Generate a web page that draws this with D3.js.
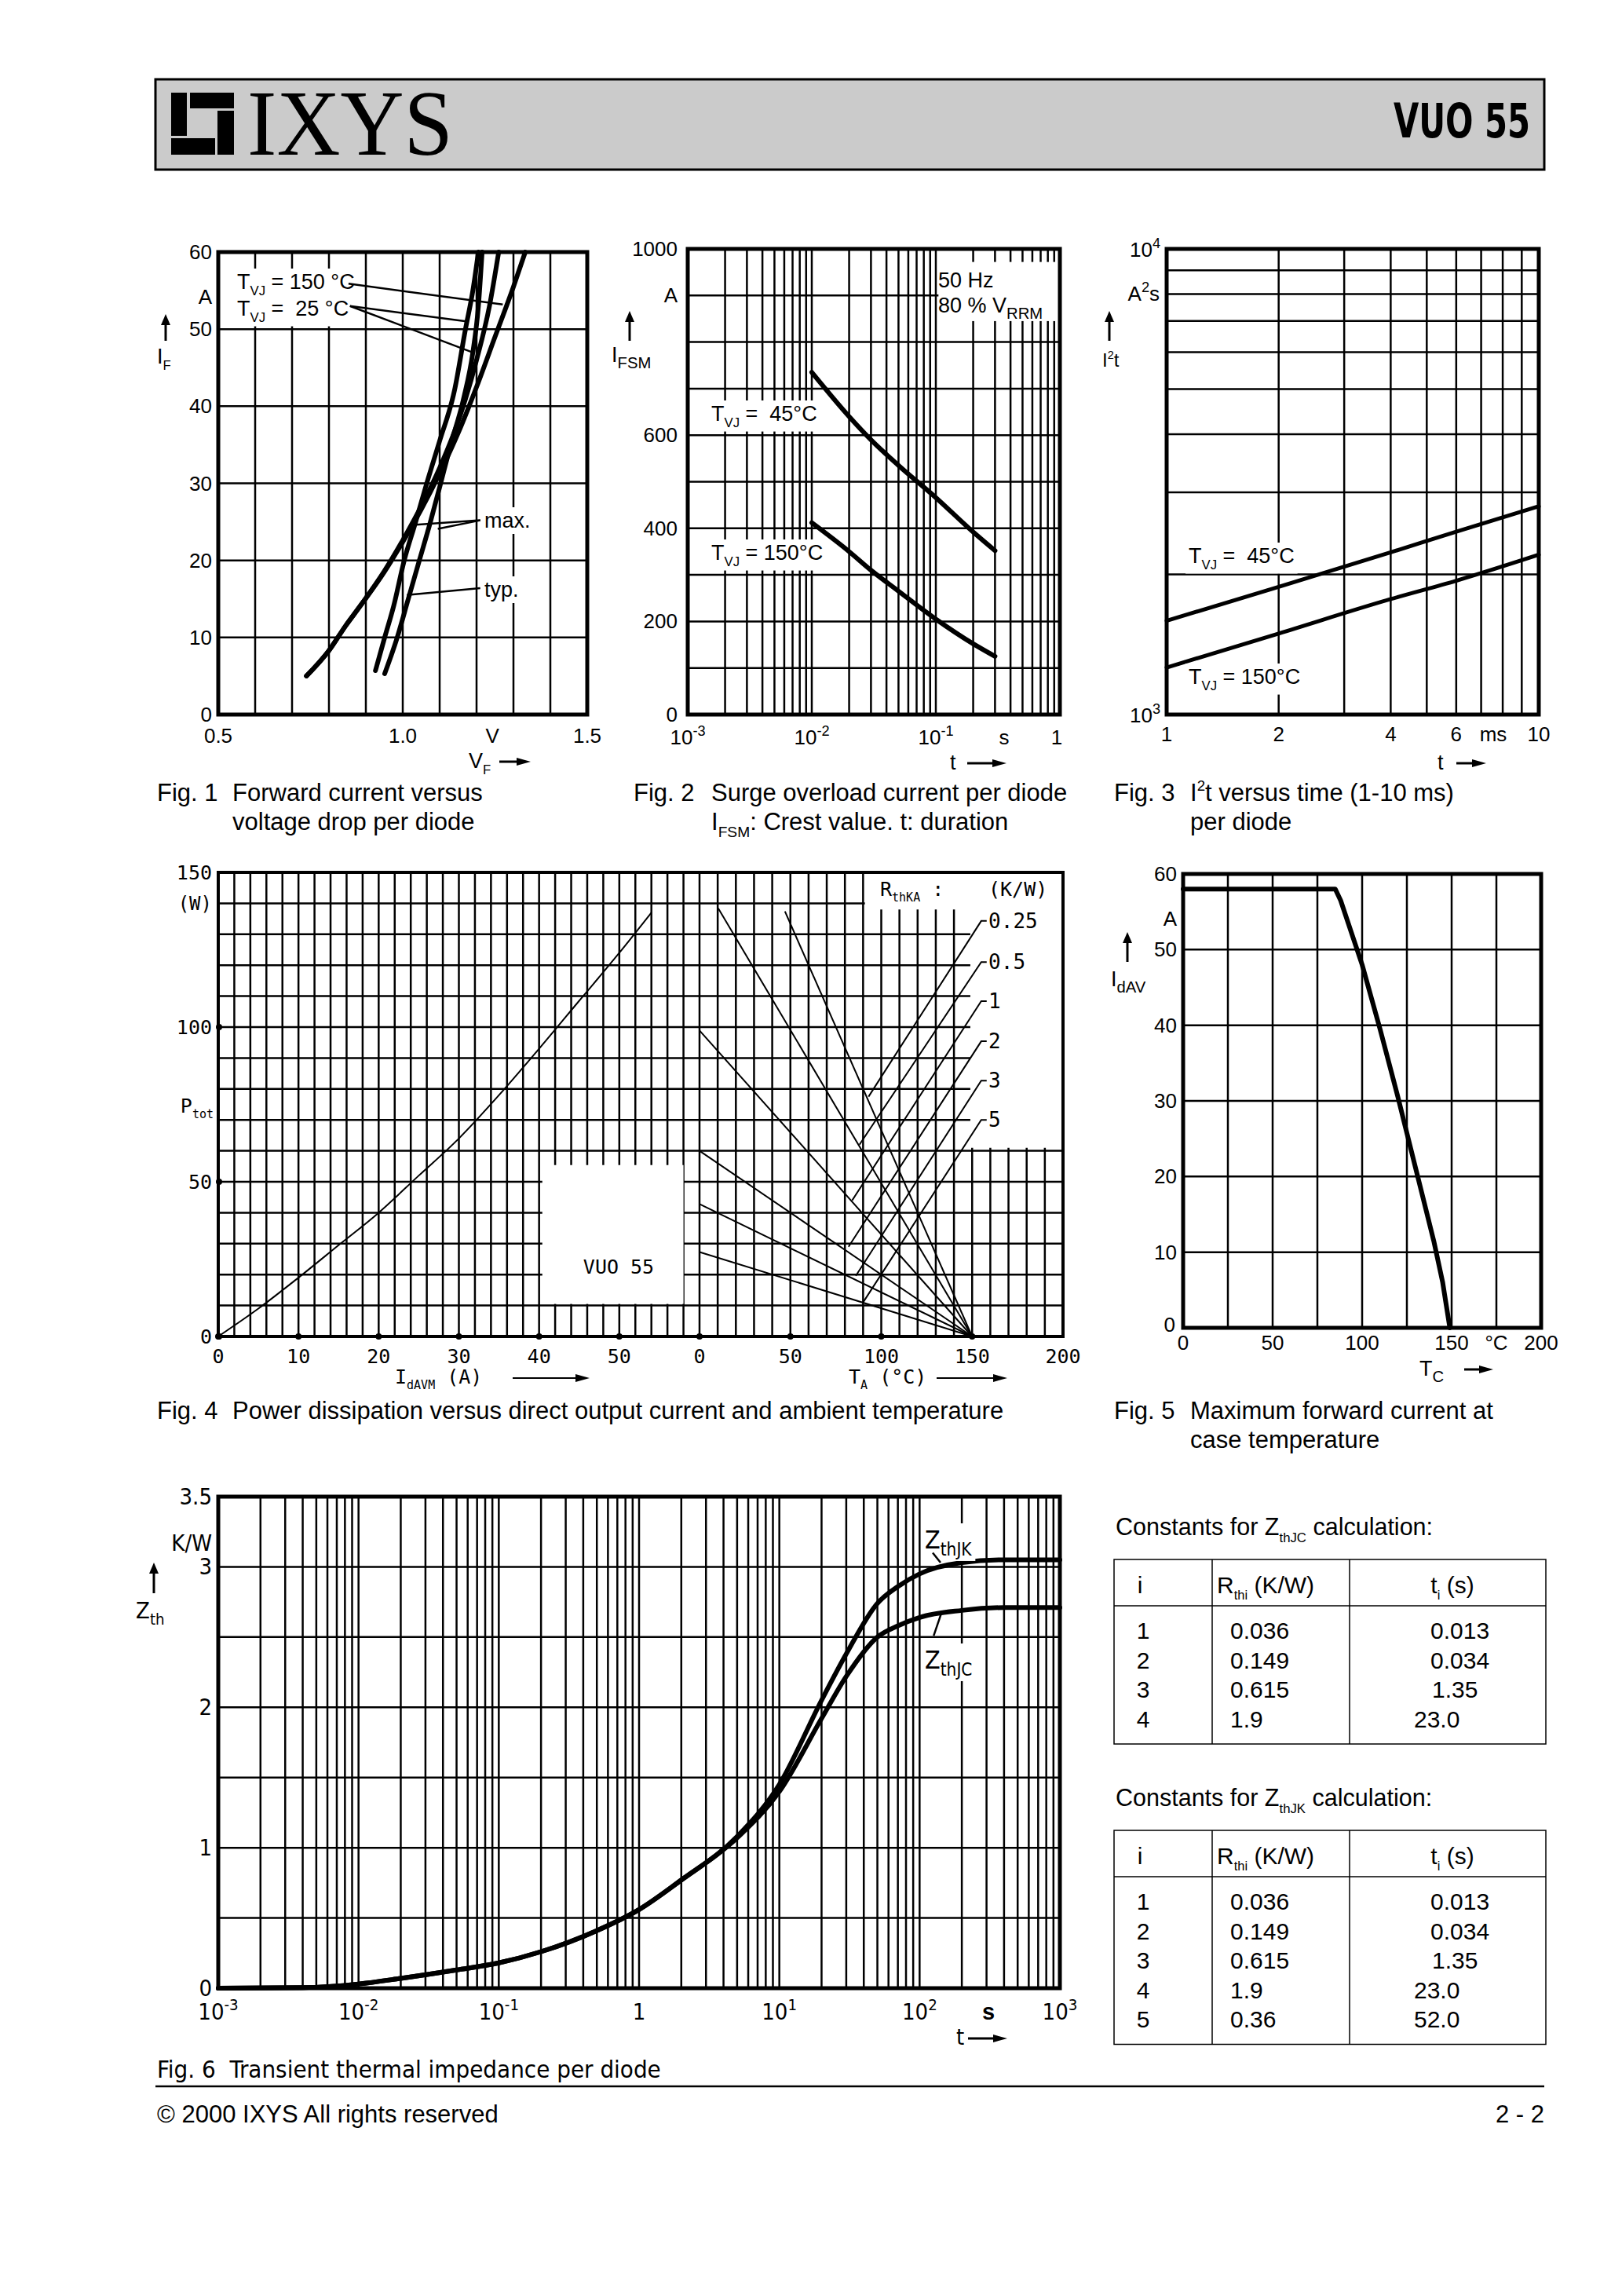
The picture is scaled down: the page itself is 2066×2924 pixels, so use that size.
<!DOCTYPE html>
<html>
<head>
<meta charset="utf-8">
<script src="https://cdn.jsdelivr.net/npm/d3@7"></script>
<style>
body { margin: 0; background: #fff; }
svg { display: block; }
text { font-family: "Liberation Sans", Arial, Helvetica, sans-serif; fill: #000; white-space: pre; }
.cond { font-family: "Liberation Sans Narrow", "DejaVu Sans Condensed", sans-serif; }
.plot { font-family: "DejaVu Sans Mono", monospace; }
.serif { font-family: "Liberation Serif", "Times New Roman", serif; }
</style>
</head>
<body>
<svg id="page"></svg>
<script>
// ---------- DATA ----------

// Fig. 1  forward characteristic, [V_F (V), I_F (A)]
var fwd25typ  = [[0.926,5.7],[0.951,10],[0.975,14],[1.004,20],[1.035,25],[1.065,30],[1.10,35.5],[1.14,42],[1.17,50],[1.19,55],[1.205,60]];
var fwd25max  = [[0.951,5.3],[0.985,10],[1.015,15],[1.045,20],[1.075,25],[1.10,29.5],[1.13,35],[1.165,41],[1.19,47],[1.205,53],[1.215,60]];
var fwd150typ = [[0.739,5],[0.80,8.3],[0.845,11.5],[0.885,14.1],[0.95,18.6],[1.0,22.6],[1.05,27],[1.10,32],[1.15,38],[1.20,46],[1.235,53],[1.26,60]];
var fwd150max = [[0.739,5],[0.80,8.3],[0.845,11.5],[0.885,14.1],[0.95,18.5],[1.0,22.4],[1.05,26.6],[1.10,31.3],[1.15,36.5],[1.20,42.5],[1.25,49],[1.30,55.5],[1.332,60]];
var fig1YTicks = [0, 10, 20, 30, 40, 50, 60];
var fig1XTicks = [0.5, 1.0, 1.5];
var fig1XLabels = ["0.5", "1.0", "1.5"];

// Fig. 2  surge current, t (s) vs I_FSM (A)
var surgeT = [0.01, 0.02, 0.03, 0.05, 0.1, 0.2, 0.3];
var surge45 = [735, 640, 590, 535, 466, 392, 352];
var surge150 = [412, 350, 310, 265, 205, 152, 125];
var fig2YTicks = [0, 200, 400, 600, 1000];
var fig2XTicks = [0.001, 0.01, 0.1, 1];
var fig2XExp = ["-3", "-2", "-1", ""];

// Fig. 3  I2t, t (ms) vs A2s
var i2tT = [1, 2, 4, 6, 10];
var i2t45 = [1590, 1880, 2230, 2470, 2800];
var i2t150 = [1262, 1493, 1770, 1938, 2204];
var fig3XTicks = [1, 2, 4, 6, 10];

// Fig. 4  power dissipation
var pIdavm = [0, 5, 10, 15, 20, 25, 30, 35, 40, 45, 50, 54];
var pTot = [0, 9, 19, 29.5, 40, 52, 64, 78, 93, 108.5, 124, 137];
var rthkaNames = ["0.25", "0.5", "1", "2", "3", "5"];
var rthkaStart = [[47,137.4],[10.3,138.4],[0,98.9],[0,60],[0,42.8],[0,27.3]];   // [T_A, P] where each line starts; all end at 150 °C / 0 W
var rthkaLabelP = [134.3, 121, 108.4, 95.4, 82.7, 70];
var rthkaLeadEnd = [[93,77.5],[88,62],[84,44],[82,29],[86,19.6],[90,11]];
var fig4PTicks = [0, 50, 100, 150];
var fig4ITicks = [0, 10, 20, 30, 40, 50];
var fig4TTicks = [0, 50, 100, 150, 200];

// Fig. 5  max forward current vs case temperature
var caseT = [0, 85, 88, 100, 110, 120, 130, 140, 145, 149];
var caseI = [58, 58, 56.5, 48, 39.5, 30.5, 21, 11.5, 6, 0];
var fig5YTicks = [0, 10, 20, 30, 40, 50, 60];
var fig5XTicks = [0, 50, 100, 150, 200];

// Fig. 6  transient thermal impedance
var zthT = [0.001, 0.004, 0.01, 0.02, 0.05, 0.1, 0.2, 0.5, 1, 2, 5, 10, 20, 30, 50, 70, 100, 200, 400, 1000];
var zthJC = [0, 0.004, 0.03, 0.07, 0.13, 0.18, 0.26, 0.41, 0.56, 0.77, 1.07, 1.40, 1.92, 2.22, 2.50, 2.58, 2.64, 2.69, 2.71, 2.71];
var zthJK = [0, 0.004, 0.03, 0.07, 0.13, 0.18, 0.26, 0.41, 0.56, 0.77, 1.08, 1.45, 2.05, 2.38, 2.74, 2.86, 2.95, 3.03, 3.05, 3.05];
var fig6YTicks = [0, 1, 2, 3, 3.5];
var fig6XTicks = [0.001, 0.01, 0.1, 1, 10, 100, 1000];
var fig6XExp = ["-3", "-2", "-1", "", "1", "2", "3"];

// Tables
var tabIdx = ["1", "2", "3", "4", "5"];
var tabRthJC = ["0.036", "0.149", "0.615", "1.9"];
var tabTiJC = ["0.013", "0.034", "1.35", "23.0"];
var tabRthJK = ["0.036", "0.149", "0.615", "1.9", "0.36"];
var tabTiJK = ["0.013", "0.034", "1.35", "23.0", "52.0"];

// ---------- PAGE ----------
var W = 2066, H = 2924;
var svg = d3.select("#page").attr("width", W).attr("height", H);
svg.append("rect").attr("width", W).attr("height", H).attr("fill", "#fff");

// text with sub/superscript parts
function rich(g, x, y, parts, size, opt) {
  opt = opt || {};
  var t = g.append("text").attr("x", x).attr("y", y)
    .attr("font-size", size).attr("text-anchor", opt.anchor || "start");
  if (opt.cls) t.attr("class", opt.cls);
  if (opt.weight) t.attr("font-weight", opt.weight);
  var shift = 0;
  parts.forEach(function (p) {
    if (typeof p === "string") p = { t: p };
    var target = p.sub ? size * 0.28 : (p.sup ? -size * 0.42 : 0);
    var ts = t.append("tspan").text(p.t).attr("dy", target - shift);
    if (p.sub || p.sup) ts.attr("font-size", size * (p.k || 0.62));
    shift = target;
  });
  if (opt.bg) {
    var b = t.node().getBBox();
    g.insert("rect", function () { return t.node(); })
      .attr("x", b.x - 4).attr("y", b.y - 2).attr("width", b.width + 8).attr("height", b.height + 4)
      .attr("fill", "#fff");
  }
  return t;
}

function seg(g, x1, y1, x2, y2, w) {
  return g.append("line").attr("x1", x1).attr("y1", y1).attr("x2", x2).attr("y2", y2)
    .attr("stroke", "#000").attr("stroke-width", w || 2);
}

function upArrow(g, x, y0, y1) {
  seg(g, x, y1, x, y0 + 12, 3);
  g.append("path").attr("d", "M" + (x - 6) + "," + (y0 + 14) + "L" + x + "," + y0 + "L" + (x + 6) + "," + (y0 + 14) + "Z");
}
function rightArrow(g, x0, x1, y, w) {
  seg(g, x0, y, x1 - 14, y, w || 3);
  g.append("path").attr("d", "M" + (x1 - 18) + "," + (y - 5) + "L" + x1 + "," + y + "L" + (x1 - 18) + "," + (y + 5) + "Z");
}

function grid(g, x, y, xv, yv, w) {
  var xr = x.range(), yr = y.range();
  g.append("g").selectAll("line").data(xv).join("line")
    .attr("x1", function (d) { return x(d); }).attr("x2", function (d) { return x(d); })
    .attr("y1", yr[0]).attr("y2", yr[1]).attr("stroke", "#000").attr("stroke-width", w);
  g.append("g").selectAll("line").data(yv).join("line")
    .attr("y1", function (d) { return y(d); }).attr("y2", function (d) { return y(d); })
    .attr("x1", xr[0]).attr("x2", xr[1]).attr("stroke", "#000").attr("stroke-width", w);
}
function frame(g, x, y, w) {
  var xr = x.range(), yr = y.range();
  g.append("rect").attr("x", xr[0]).attr("y", yr[1]).attr("width", xr[1] - xr[0]).attr("height", yr[0] - yr[1])
    .attr("fill", "none").attr("stroke", "#000").attr("stroke-width", w);
}
function logGrid(lo, hi) {
  var v = [];
  for (var e = lo; e < hi; e++) for (var m = 1; m <= 9; m++) v.push(m * Math.pow(10, e));
  return v.filter(function (d, i) { return i > 0; });
}
function curve(g, pts, x, y, w, c) {
  g.append("path").datum(pts)
    .attr("d", d3.line().x(function (d) { return x(d[0]); }).y(function (d) { return y(d[1]); }).curve(c || d3.curveMonotoneX))
    .attr("fill", "none").attr("stroke", "#000").attr("stroke-width", w).attr("stroke-linecap", "round").attr("stroke-linejoin", "round");
}

// ---------- HEADER ----------
var head = svg.append("g");
head.append("rect").attr("x", 198).attr("y", 101).attr("width", 1769).attr("height", 115)
  .attr("fill", "#cbcbcb").attr("stroke", "#000").attr("stroke-width", 3);
[[218, 118, 20, 55], [242, 118, 56, 20], [277, 141, 21, 56], [218, 176, 56, 21]].forEach(function (r) {
  head.append("rect").attr("x", r[0]).attr("y", r[1]).attr("width", r[2]).attr("height", r[3]).attr("fill", "#000");
});
head.append("text").attr("class", "serif").attr("x", 315).attr("y", 197).attr("font-size", 118)
  .attr("textLength", 262).attr("lengthAdjust", "spacingAndGlyphs").text("IXYS");
head.append("text").attr("class", "cond").attr("x", 1775).attr("y", 175).attr("font-size", 60)
  .attr("font-weight", "bold").attr("textLength", 174).attr("lengthAdjust", "spacingAndGlyphs").text("VUO 55");

// ---------- FIG 1 ----------
var g1 = svg.append("g");
var x1 = d3.scaleLinear().domain([0.5, 1.5]).range([278, 748]);
var y1 = d3.scaleLinear().domain([0, 60]).range([910, 321]);
grid(g1, x1, y1, d3.range(0.6, 1.45, 0.1), d3.range(10, 55, 10), 2.5);
frame(g1, x1, y1, 5);
[fwd150max, fwd150typ, fwd25typ, fwd25max].forEach(function (c) { curve(g1, c, x1, y1, 6); });
rich(g1, 302, 368, ["T", { t: "VJ", sub: 1 }, " = 150 °C"], 27, { bg: 1 });
rich(g1, 302, 402, ["T", { t: "VJ", sub: 1 }, " =  25 °C"], 27, { bg: 1 });
rich(g1, 617, 672, ["max."], 27, { bg: 1 });
rich(g1, 617, 760, ["typ."], 27, { bg: 1 });
[[[0.853, 55.9], [1.271, 53.2]], [[0.857, 53.0], [1.172, 51.0]], [[0.857, 53.0], [1.194, 46.9]],
 [[1.21, 25.2], [1.028, 24.6]], [[1.21, 25.2], [1.095, 24.1]], [[1.21, 16.4], [1.011, 15.5]]].forEach(function (l) {
  seg(g1, x1(l[0][0]), y1(l[0][1]), x1(l[1][0]), y1(l[1][1]), 2.5);
});
fig1YTicks.forEach(function (v) { rich(g1, 270, y1(v) + 9, [String(v)], 26, { anchor: "end" }); });
fig1XTicks.forEach(function (v, i) { rich(g1, x1(v), 946, [fig1XLabels[i]], 26, { anchor: "middle" }); });
rich(g1, x1(1.243), 946, ["V"], 26, { anchor: "middle" });
rich(g1, 270, 387, ["A"], 26, { anchor: "end" });
upArrow(g1, 211, 400, 434);
rich(g1, 200, 463, ["I", { t: "F", sub: 1 }], 27);
rich(g1, 597, 978, ["V", { t: "F", sub: 1 }], 27);
rightArrow(g1, 636, 676, 970);
rich(g1, 200, 1020, ["Fig. 1"], 31);
rich(g1, 296, 1020, ["Forward current versus"], 31);
rich(g1, 296, 1057, ["voltage drop per diode"], 31);

// ---------- FIG 2 ----------
var g2 = svg.append("g");
var x2 = d3.scaleLog().domain([1e-3, 1]).range([876, 1350]);
var y2 = d3.scaleLinear().domain([0, 1000]).range([910, 317]);
grid(g2, x2, y2, logGrid(-3, 0), d3.range(100, 1000, 100), 2.5);
g2.append("rect").attr("x", x2(0.105)).attr("y", y2(972)).attr("width", x2(1) - x2(0.105)).attr("height", y2(845) - y2(972)).attr("fill", "#fff");
frame(g2, x2, y2, 5);
curve(g2, surgeT.map(function (t, i) { return [t, surge45[i]]; }), x2, y2, 6);
curve(g2, surgeT.map(function (t, i) { return [t, surge150[i]]; }), x2, y2, 6);
rich(g2, 1195, 366, ["50 Hz"], 27);
rich(g2, 1195, 398, ["80 % V", { t: "RRM", sub: 1, k: 0.75 }], 27);
rich(g2, 906, 536, ["T", { t: "VJ", sub: 1 }, " =  45°C"], 27, { bg: 1 });
rich(g2, 906, 713, ["T", { t: "VJ", sub: 1 }, " = 150°C"], 27, { bg: 1 });
fig2YTicks.forEach(function (v) { rich(g2, 863, y2(v) + 9, [String(v)], 26, { anchor: "end" }); });
rich(g2, 863, 385, ["A"], 26, { anchor: "end" });
fig2XTicks.forEach(function (v, i) {
  if (fig2XExp[i]) rich(g2, x2(v), 948, ["10", { t: fig2XExp[i], sup: 1, k: 0.7 }], 26, { anchor: "middle" });
  else rich(g2, x2(v) - 4, 948, ["1"], 26, { anchor: "middle" });
});
rich(g2, 1279, 948, ["s"], 26, { anchor: "middle" });
upArrow(g2, 802, 396, 434);
rich(g2, 779, 461, ["I", { t: "FSM", sub: 1, k: 0.75 }], 27);
rich(g2, 1210, 980, ["t"], 27);
rightArrow(g2, 1232, 1282, 972);
rich(g2, 807, 1020, ["Fig. 2"], 31);
rich(g2, 906, 1020, ["Surge overload current per diode"], 31);
rich(g2, 906, 1057, ["I", { t: "FSM", sub: 1 }, ": Crest value. t: duration"], 31);

// ---------- FIG 3 ----------
var g3 = svg.append("g");
var x3 = d3.scaleLog().domain([1, 10]).range([1486, 1960]);
var y3 = d3.scaleLog().domain([1000, 10000]).range([910, 317]);
grid(g3, x3, y3, logGrid(0, 1), logGrid(3, 4), 2.5);
frame(g3, x3, y3, 5);
curve(g3, i2tT.map(function (t, i) { return [t, i2t45[i]]; }), x3, y3, 5);
curve(g3, i2tT.map(function (t, i) { return [t, i2t150[i]]; }), x3, y3, 5);
rich(g3, 1514, 717, ["T", { t: "VJ", sub: 1 }, " =  45°C"], 27, { bg: 1 });
rich(g3, 1514, 871, ["T", { t: "VJ", sub: 1 }, " = 150°C"], 27, { bg: 1 });
rich(g3, 1478, 327, ["10", { t: "4", sup: 1, k: 0.7 }], 26, { anchor: "end" });
rich(g3, 1478, 920, ["10", { t: "3", sup: 1, k: 0.7 }], 26, { anchor: "end" });
rich(g3, 1477, 383, ["A", { t: "2", sup: 1, k: 0.7 }, "s"], 26, { anchor: "end" });
upArrow(g3, 1413, 396, 434);
rich(g3, 1404, 467, ["I", { t: "2", sup: 1, k: 0.6 }, "t"], 24);
fig3XTicks.forEach(function (v) { rich(g3, x3(v), 944, [String(v)], 26, { anchor: "middle" }); });
rich(g3, 1902, 944, ["ms"], 26, { anchor: "middle" });
rich(g3, 1831, 980, ["t"], 27);
rightArrow(g3, 1855, 1893, 972);
rich(g3, 1419, 1020, ["Fig. 3"], 31);
rich(g3, 1516, 1020, ["I", { t: "2", sup: 1, k: 0.6 }, "t versus time (1-10 ms)"], 31);
rich(g3, 1516, 1057, ["per diode"], 31);

// ---------- FIG 4 ----------
var g4 = svg.append("g");
var x4i = d3.scaleLinear().domain([0, 60]).range([278, 891]);
var x4t = d3.scaleLinear().domain([0, 200]).range([891, 1354]);
var y4 = d3.scaleLinear().domain([0, 150]).range([1702, 1111]);
grid(g4, x4i, y4, d3.range(2, 60, 2), d3.range(10, 150, 10), 2.5);
grid(g4, x4t, y4, d3.range(0, 200, 10), d3.range(10, 150, 10), 2.5);
// blank areas: type box and legend
g4.append("rect").attr("x", x4i(40.4)).attr("y", y4(55.4)).attr("width", x4i(58) - x4i(40.4)).attr("height", y4(10.5) - y4(55.4)).attr("fill", "#fff");
g4.append("path").attr("fill", "#fff").attr("d",
  "M" + x4t(91) + "," + y4(150) + "L" + x4t(200) + "," + y4(150) + "L" + x4t(200) + "," + y4(61) +
  "L" + x4t(149) + "," + y4(61) + "L" + x4t(149) + "," + y4(138) + "L" + x4t(91) + "," + y4(138) + "Z");
frame(g4, d3.scaleLinear().range([278, 1354]), y4, 4);
curve(g4, pIdavm.map(function (v, i) { return [v, pTot[i]]; }), x4i, y4, 2);
rthkaStart.forEach(function (s) { seg(g4, x4t(s[0]), y4(s[1]), x4t(150), y4(0), 2); });
rthkaNames.forEach(function (n, i) {
  var lp = rthkaLabelP[i], e = rthkaLeadEnd[i];
  g4.append("path").attr("fill", "none").attr("stroke", "#000").attr("stroke-width", 2)
    .attr("d", "M" + x4t(158) + "," + y4(lp) + "L" + x4t(155) + "," + y4(lp) + "L" + x4t(e[0]) + "," + y4(e[1]));
  rich(g4, x4t(159), y4(lp) + 9, [n], 26, { cls: "plot" });
});
rich(g4, 1121, 1141, ["R", { t: "thKA", sub: 1, k: 0.6 }, " :"], 25, { cls: "plot" });
rich(g4, 1259, 1141, ["(K/W)"], 25, { cls: "plot" });
rich(g4, 788, 1622, ["VUO 55"], 25, { cls: "plot", anchor: "middle" });
fig4PTicks.forEach(function (v) { rich(g4, 270, y4(v) + 9, [String(v)], 25, { cls: "plot", anchor: "end" }); });
rich(g4, 270, 1159, ["(W)"], 24, { cls: "plot", anchor: "end" });
rich(g4, 272, 1417, ["P", { t: "tot", sub: 1, k: 0.6 }], 25, { cls: "plot", anchor: "end" });
fig4ITicks.forEach(function (v) { rich(g4, x4i(v), 1736, [String(v)], 25, { cls: "plot", anchor: "middle" }); });
fig4TTicks.forEach(function (v) { rich(g4, x4t(v), 1736, [String(v)], 25, { cls: "plot", anchor: "middle" }); });
fig4PTicks.slice(0, 3).forEach(function (v) { g4.append("circle").attr("cx", 279).attr("cy", y4(v)).attr("r", 4); });
fig4ITicks.forEach(function (v) { g4.append("circle").attr("cx", x4i(v)).attr("cy", 1702).attr("r", 4); });
fig4TTicks.slice(0, 4).forEach(function (v) { g4.append("circle").attr("cx", x4t(v)).attr("cy", 1702).attr("r", 4); });
rich(g4, 503, 1762, ["I", { t: "dAVM", sub: 1, k: 0.6 }, " (A)"], 25, { cls: "plot" });
rightArrow(g4, 653, 751, 1755, 2);
rich(g4, 1081, 1762, ["T", { t: "A", sub: 1, k: 0.6 }, " (°C)"], 25, { cls: "plot" });
rightArrow(g4, 1193, 1283, 1755, 2);
rich(g4, 200, 1807, ["Fig. 4"], 31);
rich(g4, 296, 1807, ["Power dissipation versus direct output current and ambient temperature"], 31);

// ---------- FIG 5 ----------
var g5 = svg.append("g");
var x5 = d3.scaleLinear().domain([0, 200]).range([1507, 1963]);
var y5 = d3.scaleLinear().domain([0, 60]).range([1691, 1113]);
grid(g5, x5, y5, d3.range(25, 200, 25), d3.range(10, 60, 10), 2.5);
frame(g5, x5, y5, 5);
curve(g5, caseT.map(function (t, i) { return [t, caseI[i]]; }), x5, y5, 6, d3.curveLinear);
fig5YTicks.forEach(function (v) { rich(g5, v ? 1499 : 1497, y5(v) + (v ? 9 : 5), [String(v)], 26, { anchor: "end" }); });
fig5XTicks.forEach(function (v) { rich(g5, x5(v), 1719, [String(v)], 26, { anchor: "middle" }); });
rich(g5, 1906, 1719, ["°C"], 26, { anchor: "middle" });
rich(g5, 1499, 1179, ["A"], 26, { anchor: "end" });
upArrow(g5, 1436, 1187, 1225);
rich(g5, 1415, 1256, ["I", { t: "dAV", sub: 1, k: 0.75 }], 27);
rich(g5, 1808, 1752, ["T", { t: "C", sub: 1, k: 0.75 }], 27);
rightArrow(g5, 1865, 1902, 1744);
rich(g5, 1419, 1807, ["Fig. 5"], 31);
rich(g5, 1516, 1807, ["Maximum forward current at"], 31);
rich(g5, 1516, 1844, ["case temperature"], 31);

// ---------- FIG 6 ----------
var g6 = svg.append("g");
var x6 = d3.scaleLog().domain([1e-3, 1e3]).range([278, 1350]);
var y6 = d3.scaleLinear().domain([0, 3.5]).range([2532, 1906]);
grid(g6, x6, y6, logGrid(-3, 3), d3.range(0.5, 3.5, 0.5), 2.5);
frame(g6, x6, y6, 5);
curve(g6, zthT.map(function (t, i) { return [t, zthJC[i]]; }), x6, y6, 6);
curve(g6, zthT.map(function (t, i) { return [t, zthJK[i]]; }), x6, y6, 6);
rich(g6, 1178, 1972, ["Z", { t: "thJK", sub: 1, k: 0.7 }], 32, { cls: "cond", bg: 1 });
rich(g6, 1178, 2125, ["Z", { t: "thJC", sub: 1, k: 0.7 }], 32, { cls: "cond", bg: 1 });
seg(g6, x6(124), y6(3.10), x6(141), y6(3.03), 2.5);
seg(g6, x6(144), y6(2.68), x6(126), y6(2.51), 2.5);
fig6YTicks.forEach(function (v) { rich(g6, 270, y6(v) + 10, [String(v)], 29, { cls: "cond", anchor: "end" }); });
rich(g6, 270, 1975, ["K/W"], 29, { cls: "cond", anchor: "end" });
upArrow(g6, 196, 1990, 2029);
rich(g6, 173, 2061, ["Z", { t: "th", sub: 1, k: 0.7 }], 29, { cls: "cond" });
fig6XTicks.forEach(function (v, i) {
  if (fig6XExp[i]) rich(g6, x6(v), 2572, ["10", { t: fig6XExp[i], sup: 1, k: 0.7 }], 29, { cls: "cond", anchor: "middle" });
  else rich(g6, x6(v), 2572, ["1"], 29, { cls: "cond", anchor: "middle" });
});
rich(g6, 1259, 2572, ["s"], 29, { anchor: "middle", weight: "bold" });
rich(g6, 1218, 2604, ["t"], 29, { cls: "cond" });
rightArrow(g6, 1233, 1283, 2596);
rich(g6, 200, 2646, ["Fig. 6  Transient thermal impedance per diode"], 31, { cls: "cond" });

// ---------- TABLES ----------
function table(g, top, title, rows) {
  var tb = { x0: 1419, x1: 1969, c1: 1544, c2: 1719 };
  var hdr = top + 59, y0 = top, y1 = top + 85 + rows.r.length * 37.5;
  rich(g, 1421, top - 31, ["Constants for Z", { t: title, sub: 1, k: 0.55 }, " calculation:"], 30.5);
  g.append("rect").attr("x", tb.x0).attr("y", y0).attr("width", tb.x1 - tb.x0).attr("height", y1 - y0)
    .attr("fill", "none").attr("stroke", "#000").attr("stroke-width", 1.5);
  seg(g, tb.x0, hdr, tb.x1, hdr, 1.5);
  seg(g, tb.c1, y0, tb.c1, y1, 1.5);
  seg(g, tb.c2, y0, tb.c2, y1, 1.5);
  rich(g, 1452, top + 43, ["i"], 30, { anchor: "middle" });
  rich(g, 1612, top + 43, ["R", { t: "thi", sub: 1, k: 0.55 }, " (K/W)"], 30, { anchor: "middle" });
  rich(g, 1850, top + 43, ["t", { t: "i", sub: 1, k: 0.55 }, " (s)"], 30, { anchor: "middle" });
  rows.r.forEach(function (r, i) {
    var yy = top + 101 + i * 37.5;
    rich(g, 1456, yy, [tabIdx[i]], 30, { anchor: "middle" });
    rich(g, 1567, yy, [r], 30);
    var tx = rows.t[i].indexOf(".") === 1 ? (rows.t[i].length === 5 ? 1822 : 1824) : 1801;
    rich(g, tx, yy, [rows.t[i]], 30);
  });
}
var gt = svg.append("g");
table(gt, 1986, "thJC", { r: tabRthJC, t: tabTiJC });
table(gt, 2331, "thJK", { r: tabRthJK, t: tabTiJK });

// ---------- FOOTER ----------
seg(svg, 198, 2657, 1967, 2657, 2.5);
rich(svg, 200, 2703, ["© 2000 IXYS All rights reserved"], 31);
rich(svg, 1967, 2703, ["2 - 2"], 31, { anchor: "end" });
</script>
</body>
</html>
